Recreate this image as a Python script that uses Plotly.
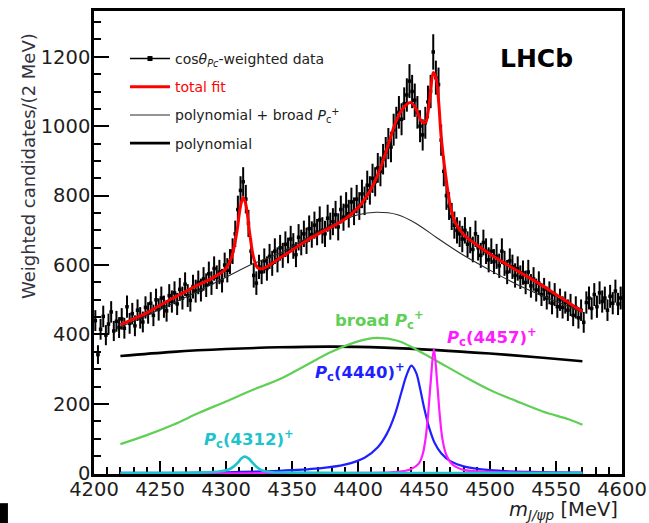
import numpy as np
import plotly.graph_objects as go

# ---- cos(theta)-weighted J/psi p mass spectrum, 2 MeV bins from 4200 to 4600 ----
BIN_START, BIN_END, BIN_WIDTH = 4200, 4600, 2
mass_centres = np.arange(BIN_START + BIN_WIDTH / 2, BIN_END, BIN_WIDTH)

weighted_counts = [
    440, 342, 415, 452, 398, 430, 465, 410, 438, 420,
    445, 418, 480, 432, 460, 425, 470, 448, 436, 478,
    462, 490, 455, 500, 472, 505, 480, 468, 512, 495,
    520, 488, 530, 505, 545, 512, 498, 538, 525, 550,
    528, 560, 542, 575, 548, 590, 565, 580, 555, 600,
    585, 610, 640, 690, 760, 815, 840, 790, 720, 640,
    570, 548, 595, 580, 612, 590, 625, 605, 640, 615,
    650, 628, 660, 642, 675, 655, 630, 680, 665, 690,
    670, 705, 688, 715, 695, 730, 700, 690, 735, 712,
    725, 745, 710, 760, 738, 770, 748, 782, 755, 790,
    770, 805, 785, 830, 815, 850, 840, 880, 870, 905,
    925, 950, 940, 990, 1010, 1040, 1020, 1065, 1090, 1130,
    1100, 1075, 1040, 1000, 975, 1010, 1070, 1100, 1214, 1140,
    1120, 960, 870, 800, 770, 740, 715, 700, 690, 675,
    700, 660, 672, 645, 690, 650, 628, 665, 640, 615,
    640, 610, 625, 598, 640, 605, 580, 612, 595, 570,
    590, 565, 578, 550, 580, 540, 560, 528, 548, 515,
    530, 505, 520, 490, 515, 480, 500, 478, 492, 470,
    485, 455, 478, 448, 470, 435, 492, 505, 475, 515,
    480, 520, 495, 505, 470, 510, 490, 525, 488, 505,
]

count_errors = [
    30, 27, 30, 31, 29, 30, 31, 29, 30, 30,
    31, 30, 32, 30, 31, 30, 31, 31, 30, 32,
    31, 32, 31, 32, 32, 33, 32, 31, 33, 32,
    33, 32, 33, 33, 34, 33, 32, 34, 33, 34,
    33, 34, 34, 35, 34, 35, 34, 35, 34, 36,
    35, 36, 37, 38, 40, 41, 42, 41, 39, 37,
    35, 34, 35, 35, 36, 35, 36, 36, 37, 36,
    37, 36, 37, 37, 38, 37, 36, 38, 37, 38,
    38, 38, 38, 39, 38, 39, 38, 38, 39, 39,
    39, 40, 39, 40, 39, 40, 40, 41, 40, 41,
    40, 41, 41, 42, 41, 42, 42, 43, 43, 44,
    44, 45, 44, 46, 46, 47, 46, 47, 48, 49,
    48, 48, 47, 46, 45, 46, 47, 48, 51, 49,
    49, 45, 43, 41, 40, 39, 39, 38, 38, 38,
    38, 37, 38, 37, 38, 37, 36, 37, 37, 36,
    37, 36, 36, 35, 37, 36, 35, 36, 35, 35,
    35, 34, 35, 34, 35, 34, 34, 33, 34, 33,
    33, 33, 33, 32, 33, 32, 32, 32, 32, 31,
    32, 31, 32, 31, 31, 30, 32, 33, 32, 33,
    32, 33, 32, 33, 31, 33, 32, 33, 32, 33,
]

# ---- fit curves (knots of each component, MeV vs weighted candidates) ----
total_m = [4220, 4230, 4240, 4250, 4260, 4270, 4280, 4290, 4296, 4300, 4304, 4308,
           4311, 4313, 4315, 4318, 4321, 4324, 4328, 4335, 4340, 4350, 4360, 4370,
           4380, 4390, 4400, 4410, 4418, 4424, 4430, 4436, 4440, 4444, 4448, 4451,
           4453, 4455, 4457, 4459, 4461, 4463, 4466, 4470, 4474, 4480, 4490, 4500,
           4510, 4520, 4530, 4540, 4550, 4560, 4570]
total_v = [428, 445, 462, 484, 505, 525, 545, 563, 577, 590, 620, 690,
           770, 795, 775, 690, 620, 592, 590, 605, 618, 643, 668, 690,
           710, 732, 765, 820, 890, 960, 1025, 1060, 1068, 1050, 1015, 1010,
           1040, 1100, 1155, 1140, 1075, 970, 870, 770, 720, 688, 658, 632,
           608, 585, 563, 540, 515, 490, 466]

poly_broad_m = [4220, 4240, 4260, 4280, 4300, 4320, 4340, 4360, 4380, 4400, 4414,
                4430, 4444, 4460, 4480, 4500, 4520, 4540, 4560, 4570]
poly_broad_v = [422, 455, 490, 527, 565, 603, 633, 675, 715, 745, 752,
                745, 720, 678, 628, 585, 545, 511, 480, 463]

poly_m = [4220, 4260, 4300, 4340, 4380, 4420, 4460, 4500, 4540, 4570]
poly_v = [338, 350, 358, 363, 365, 362, 355, 345, 333, 323]

broad_m = [4220, 4240, 4260, 4280, 4300, 4320, 4340, 4360, 4380, 4400, 4414,
           4430, 4444, 4460, 4480, 4500, 4520, 4540, 4560, 4570]
broad_v = [84, 110, 140, 175, 207, 240, 270, 310, 350, 380, 390,
           382, 357, 323, 280, 240, 208, 178, 155, 140]

pc4312_m = [4220, 4280, 4295, 4302, 4306, 4309, 4312, 4314, 4317, 4320, 4323,
            4327, 4333, 4350, 4400, 4570]
pc4312_v = [0.5, 2, 5, 11, 20, 31, 44, 48, 43, 31, 19, 9, 4, 2, 1, 0.5]

pc4440_m = [4220, 4300, 4340, 4370, 4390, 4405, 4415, 4422, 4428, 4433, 4437,
            4440.5, 4444, 4447, 4450, 4454, 4458, 4463, 4470, 4480, 4500, 4530, 4570]
pc4440_v = [1, 3, 7, 14, 25, 45, 75, 115, 170, 235, 285,
            310, 290, 245, 190, 130, 88, 58, 35, 20, 9, 4, 2]

pc4457_m = [4220, 4400, 4430, 4440, 4446, 4449, 4451, 4453, 4455, 4457.5,
            4460, 4462, 4464, 4467, 4472, 4480, 4500, 4570]
pc4457_v = [0, 1, 4, 12, 28, 55, 95, 165, 260, 358,
            260, 165, 98, 52, 24, 10, 4, 1]

FONT = "DejaVu Sans"
INK = "#1e1e1e"
RED = "#ff0000"
GREEN = "#5fcf55"
BLUE = "#1f1fff"
MAGENTA = "#ff1aff"
CYAN = "#1ec3cc"

fig = go.Figure()

# data points with error bars
fig.add_trace(go.Scatter(
    x=mass_centres, y=weighted_counts, mode="markers",
    marker=dict(symbol="square", size=3.5, color="black"),
    error_y=dict(type="data", array=count_errors, thickness=2, width=0, color="black"),
    error_x=dict(type="constant", value=BIN_WIDTH / 2, thickness=1.2, width=0, color="black"),
    showlegend=False, hoverinfo="skip",
))

curve = dict(mode="lines", line_shape="spline", hoverinfo="skip")
fig.add_trace(go.Scatter(x=poly_broad_m, y=poly_broad_v, line=dict(color="#2a2a2a", width=1.1),
                         name="polynomial + broad <i>P</i><sub>c</sub><sup>+</sup>",
                         legendrank=3, legendgroup="c", **curve))
fig.add_trace(go.Scatter(x=poly_m, y=poly_v, line=dict(color="black", width=2.6),
                         name="polynomial", legendrank=4, legendgroup="d", **curve))
fig.add_trace(go.Scatter(x=broad_m, y=broad_v, line=dict(color=GREEN, width=2.2),
                         showlegend=False, **curve))
fig.add_trace(go.Scatter(x=pc4440_m, y=pc4440_v, line=dict(color=BLUE, width=2.2),
                         showlegend=False, **curve))
fig.add_trace(go.Scatter(x=pc4457_m, y=pc4457_v, line=dict(color=MAGENTA, width=2.2),
                         showlegend=False, **curve))
fig.add_trace(go.Scatter(x=pc4312_m, y=pc4312_v, line=dict(color=CYAN, width=2.6),
                         showlegend=False, **curve))
fig.add_trace(go.Scatter(x=total_m, y=total_v, line=dict(color=RED, width=3),
                         name="<span style='color:#ff0000'>total fit</span>",
                         legendrank=2, legendgroup="b", **curve))
# legend key for the data points (point with horizontal bar)
fig.add_trace(go.Scatter(x=[None], y=[None], mode="lines+markers",
                         line=dict(color="black", width=1.5),
                         marker=dict(symbol="square", size=5, color="black"),
                         name="cos<i>θ</i><sub><i>Pc</i></sub>-weighted data",
                         legendrank=1, legendgroup="a"))

label_font = dict(family=FONT, size=16.5)
annotations = [
    dict(x=4535, y=1194, text="<b>LHCb</b>", font=dict(family=FONT, size=25, color="black"),
         xanchor="center", yanchor="middle"),
    dict(x=4381, y=443, text="<b>broad <i>P</i><sub>c</sub><sup>+</sup></b>",
         font=dict(label_font, color=GREEN), xanchor="left", yanchor="middle"),
    dict(x=4466, y=394, text="<b><i>P</i><sub>c</sub>(4457)<sup>+</sup></b>",
         font=dict(label_font, color=MAGENTA), xanchor="left", yanchor="middle"),
    dict(x=4366, y=291, text="<b><i>P</i><sub>c</sub>(4440)<sup>+</sup></b>",
         font=dict(label_font, color=BLUE), xanchor="left", yanchor="middle"),
    dict(x=4282, y=98, text="<b><i>P</i><sub>c</sub>(4312)<sup>+</sup></b>",
         font=dict(label_font, color=CYAN), xanchor="left", yanchor="middle"),
    dict(x=0.996, y=-0.078, xref="paper", yref="paper",
         text="<i>m</i><sub><i>J/ψp</i></sub> [MeV]",
         font=dict(family=FONT, size=19.5, color=INK), xanchor="right", yanchor="middle"),
    dict(x=-0.125, y=0.665, xref="paper", yref="paper", textangle=-90,
         text="Weighted candidates/(2 MeV)",
         font=dict(family=FONT, size=18, color="#333340"), xanchor="center", yanchor="middle"),
]
for a in annotations:
    a.setdefault("showarrow", False)

fig.update_layout(
    width=649, height=523,
    margin=dict(l=94, r=27, t=11, b=49, autoexpand=False),
    paper_bgcolor="white", plot_bgcolor="white",
    font=dict(family=FONT, color=INK),
    annotations=annotations,
    showlegend=True,
    legend=dict(x=0.0587, y=0.931, xanchor="left", yanchor="top",
                bgcolor="rgba(0,0,0,0)", font=dict(family=FONT, size=14, color="#222"),
                traceorder="grouped", tracegroupgap=7, itemwidth=40),
    shapes=[dict(type="rect", xref="paper", yref="paper",
                 x0=-0.178, x1=-0.163, y0=-0.106, y1=-0.063,
                 fillcolor="black", line=dict(width=0))],
)

fig.update_xaxes(
    range=[BIN_START, BIN_END], dtick=50, tick0=4200, automargin=False,
    ticks="inside", ticklen=13, tickwidth=2.2, tickcolor="black",
    minor=dict(dtick=10, ticks="inside", ticklen=7, tickwidth=2.2, tickcolor="black"),
    showline=True, linewidth=2.5, linecolor="black", mirror=True,
    showgrid=False, zeroline=False, layer="below traces",
    tickfont=dict(family=FONT, size=19.5, color=INK), ticklabelstandoff=-4,
)
fig.update_yaxes(
    range=[-2, 1332], dtick=200, tick0=0, automargin=False,
    ticks="inside", ticklen=15, tickwidth=2.2, tickcolor="black",
    minor=dict(dtick=50, ticks="inside", ticklen=7, tickwidth=2.2, tickcolor="black"),
    showline=True, linewidth=2.5, linecolor="black", mirror=True,
    showgrid=False, zeroline=False,
    tickfont=dict(family=FONT, size=19.5, color=INK), ticklabelstandoff=-3,
)

fig.write_html("out.html")
